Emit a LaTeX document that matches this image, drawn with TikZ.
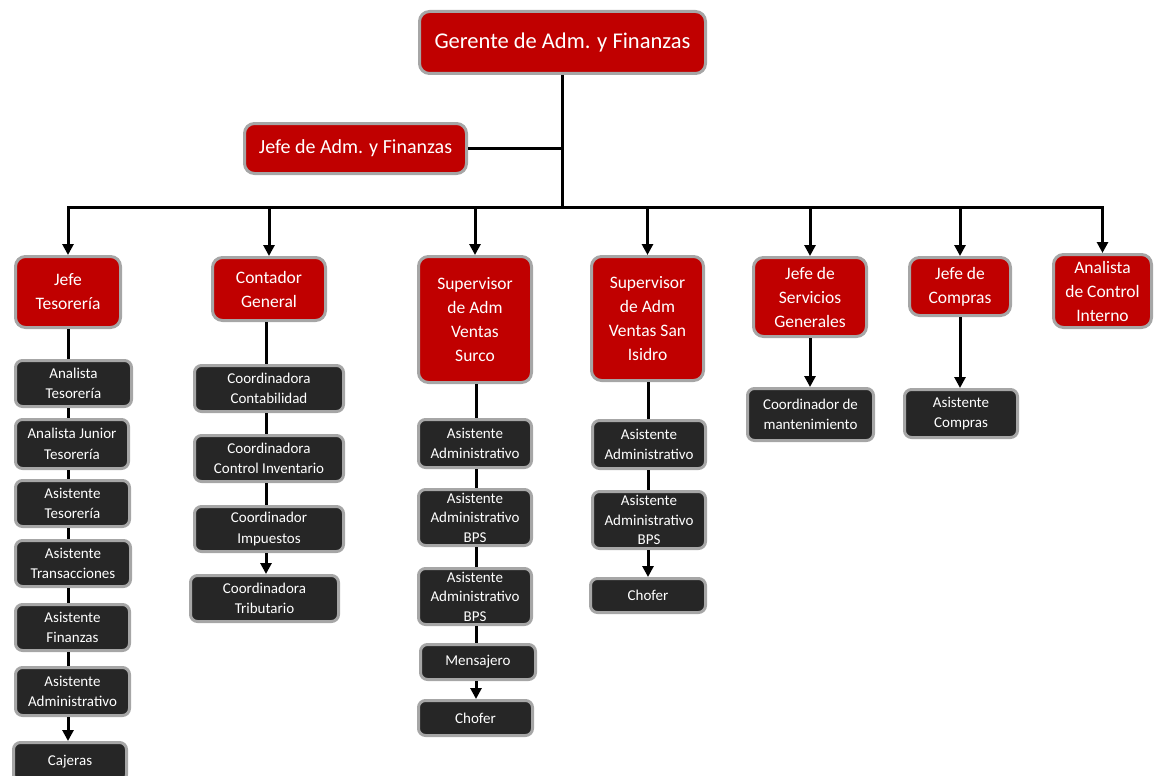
\documentclass[tikz,border=0pt]{standalone}
\usepackage{fontspec}
\setmainfont{Carlito}
\usetikzlibrary{arrows.meta}
\definecolor{boxred}{HTML}{C00000}
\definecolor{boxdark}{HTML}{262626}
\definecolor{boxrim}{HTML}{A6A6A6}
\tikzset{
 base/.style={rectangle, draw=boxrim, line width=3pt, text=white, align=center, inner sep=0pt},
 redbox/.style={base, fill=boxred, rounded corners=10pt, font=\fontsize{17.5}{24}\selectfont},
 darkbox/.style={base, fill=boxdark, rounded corners=7pt, font=\fontsize{15}{20.5}\selectfont},
 link/.style={line width=3pt, draw=black},
 arr/.style={link, -{Triangle[width=11pt,length=11pt]}},
}
\begin{document}
\begin{tikzpicture}[x=1pt,y=-1pt]
\useasboundingbox (0,0) rectangle (1154,776);
\clip (0,0) rectangle (1154,776);
% top
\node[redbox, font=\fontsize{22.5}{27}\selectfont, minimum width=286pt, minimum height=62pt] (ger) at (562.5,42.5) {Gerente de Adm. y Finanzas};
\node[redbox, font=\fontsize{20}{24}\selectfont, minimum width=222pt, minimum height=50pt] (jadm) at (355.5,148.5) {Jefe de Adm. y Finanzas};
% level 2
\node[redbox, minimum width=105pt, minimum height=71pt] (tes) at (68,292) {Jefe\\Tesorería};
\node[redbox, minimum width=113pt, minimum height=63pt] (cont) at (269,289) {Contador\\General};
\node[redbox, minimum width=113pt, minimum height=126pt] (sur) at (475,319.5) {Supervisor\\de Adm\\Ventas\\Surco};
\node[redbox, minimum width=112pt, minimum height=124pt] (isi) at (647.5,318.5) {Supervisor\\de Adm\\Ventas San\\Isidro};
\node[redbox, minimum width=113pt, minimum height=79pt] (sg) at (810,297) {Jefe de\\Servicios\\Generales};
\node[redbox, minimum width=101pt, minimum height=58pt] (com) at (960,286.5) {Jefe de\\Compras};
\node[redbox, minimum width=98pt, minimum height=73pt] (aci) at (1102.5,291) {Analista\\de Control\\Interno};
% column 1
\node[darkbox, minimum width=116pt, minimum height=46pt] (t1) at (73.5,383.5) {Analista\\Tesorería};
\node[darkbox, minimum width=113pt, minimum height=49pt] (t2) at (72,444) {Analista Junior\\Tesorería};
\node[darkbox, minimum width=114pt, minimum height=46pt] (t3) at (72.5,503.5) {Asistente\\Tesorería};
\node[darkbox, minimum width=115pt, minimum height=46pt] (t4) at (73,563.5) {Asistente\\Transacciones};
\node[darkbox, minimum width=114pt, minimum height=46pt] (t5) at (72.5,627.5) {Asistente\\Finanzas};
\node[darkbox, minimum width=114pt, minimum height=48pt] (t6) at (72.5,691.5) {Asistente\\Administrativo};
\node[darkbox, minimum width=113pt, minimum height=39pt] (t7) at (70,762) {Cajeras};
% column 2
\node[darkbox, minimum width=149pt, minimum height=46pt] (c1) at (269,388.5) {Coordinadora\\Contabilidad};
\node[darkbox, minimum width=149pt, minimum height=46pt] (c2) at (269,458.5) {Coordinadora\\Control Inventario};
\node[darkbox, minimum width=149pt, minimum height=45pt] (c3) at (269,529) {Coordinador\\Impuestos};
\node[darkbox, minimum width=148pt, minimum height=46pt] (c4) at (264.5,598.5) {Coordinadora\\Tributario};
% column 3
\node[darkbox, minimum width=113pt, minimum height=48pt] (s1) at (475,443.5) {Asistente\\Administrativo};
\node[darkbox, minimum width=113pt, minimum height=56pt, font=\fontsize{15}{19.5}\selectfont] (s2) at (475,517.5) {Asistente\\Administrativo\\BPS};
\node[darkbox, minimum width=113pt, minimum height=56pt, font=\fontsize{15}{19.5}\selectfont] (s3) at (475,596.5) {Asistente\\Administrativo\\BPS};
\node[darkbox, minimum width=115pt, minimum height=35pt] (s4) at (478,662) {Mensajero};
\node[darkbox, minimum width=114pt, minimum height=35pt] (s5) at (475.5,718) {Chofer};
% column 4
\node[darkbox, minimum width=113pt, minimum height=48pt] (i1) at (649,444.5) {Asistente\\Administrativo};
\node[darkbox, minimum width=113pt, minimum height=57pt, font=\fontsize{15}{19.5}\selectfont] (i2) at (649,520) {Asistente\\Administrativo\\BPS};
\node[darkbox, minimum width=115pt, minimum height=34pt] (i3) at (648,595.5) {Chofer};
% columns 5, 6
\node[darkbox, minimum width=126pt, minimum height=52pt] (m1) at (810.5,414.5) {Coordinador de\\mantenimiento};
\node[darkbox, minimum width=113pt, minimum height=48pt] (p1) at (961,413.5) {Asistente\\Compras};
% bus
\coordinate (busL) at (68,207);
\coordinate (busR) at (1102.5,207);
\draw[link, line cap=rect] (busL) -- (busR);
\draw[link] (ger.south) -- (ger.south |- busL);
\draw[link] (jadm.east) -- (jadm.east -| ger.south);
\foreach \n in {tes,cont,sur,isi,sg,com,aci}
  \draw[arr] (\n.north |- busL) -- (\n.north);
% column links
\draw[link] (tes.south) -- (tes.south |- t1.north);
\draw[link] (tes.south |- t1.south) -- (tes.south |- t2.north);
\draw[link] (tes.south |- t2.south) -- (tes.south |- t3.north);
\draw[link] (tes.south |- t3.south) -- (tes.south |- t4.north);
\draw[link] (tes.south |- t4.south) -- (tes.south |- t5.north);
\draw[link] (tes.south |- t5.south) -- (tes.south |- t6.north);
\draw[arr] (tes.south |- t6.south) -- (tes.south |- t7.north);
\coordinate (cx) at (266,0);
\draw[link] (cx |- cont.south) -- (cx |- c1.north);
\draw[link] (cx |- c1.south) -- (cx |- c2.north);
\draw[link] (cx |- c2.south) -- (cx |- c3.north);
\draw[arr] (cx |- c3.south) -- (cx |- c4.north);
\coordinate (sx) at (476,0);
\draw[link] (sx |- sur.south) -- (sx |- s1.north);
\draw[link] (sx |- s1.south) -- (sx |- s2.north);
\draw[link] (sx |- s2.south) -- (sx |- s3.north);
\draw[link] (sx |- s3.south) -- (sx |- s4.north);
\draw[arr] (sx |- s4.south) -- (sx |- s5.north);
\coordinate (ix) at (648,0);
\draw[link] (ix |- isi.south) -- (ix |- i1.north);
\draw[link] (ix |- i1.south) -- (ix |- i2.north);
\draw[arr] (ix |- i2.south) -- (ix |- i3.north);
\draw[arr] (sg.south) -- (sg.south |- m1.north);
\draw[arr] (com.south) -- (com.south |- p1.north);
\end{tikzpicture}
\end{document}
